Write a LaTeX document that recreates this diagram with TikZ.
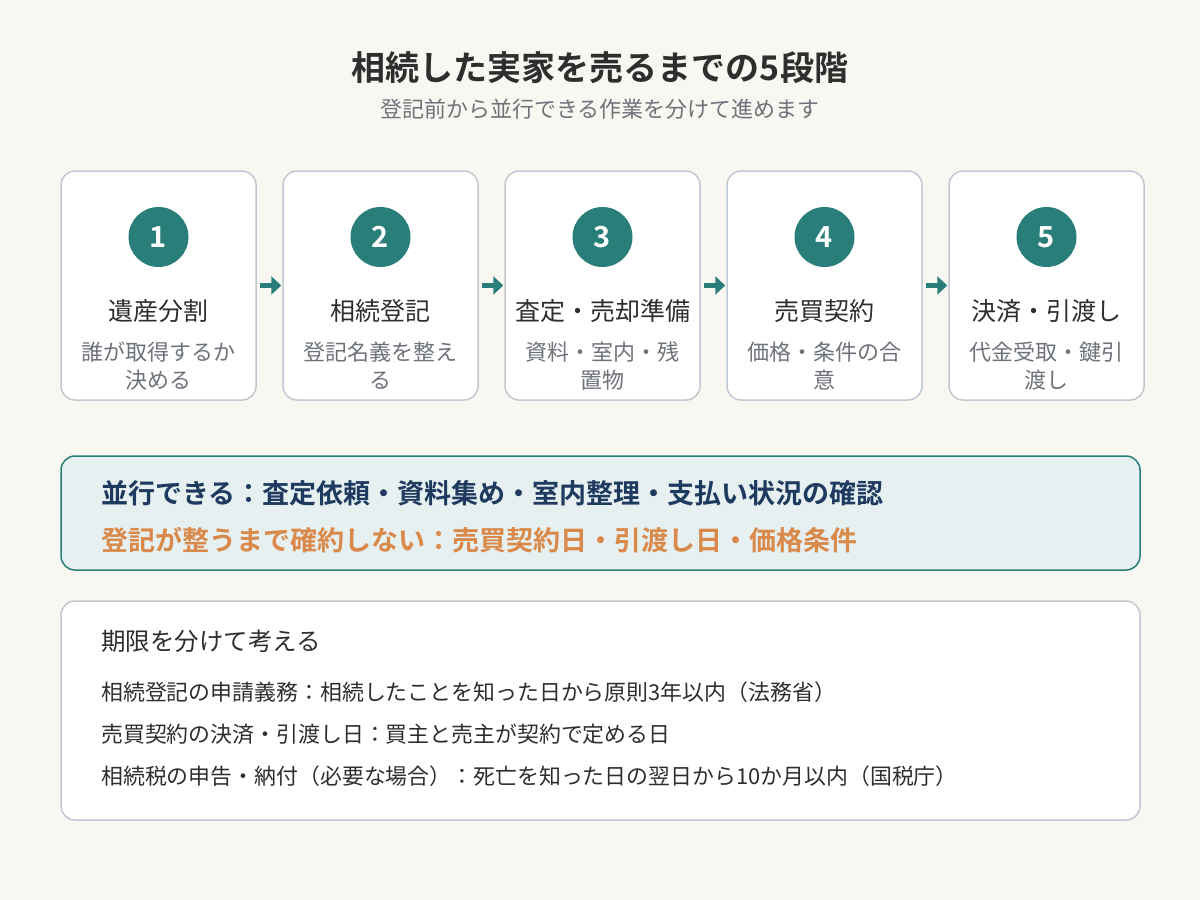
\documentclass[tikz,border=0pt]{standalone}
\usepackage{fontspec}
\setmainfont{Noto Sans CJK JP}[BoldFont={* Bold}]
\usetikzlibrary{arrows.meta}
\definecolor{bg}{HTML}{F9F7F1}
\definecolor{teal}{HTML}{2A7E7A}
\definecolor{cardline}{HTML}{C0C9D2}
\definecolor{navy}{HTML}{1F3A5F}
\definecolor{orng}{HTML}{D9894A}
\definecolor{darktext}{HTML}{2E2E2E}
\definecolor{graytext}{HTML}{6E737A}
\definecolor{panel}{HTML}{E6F0F1}
\begin{document}
\begin{tikzpicture}[x=1pt,y=-1pt,
  card/.style={draw=cardline,line width=1.5pt,fill=white,rounded corners=14pt,minimum width=195pt,minimum height=229pt,inner sep=0pt},
  numdot/.style={circle,fill=teal,minimum size=60pt,inner sep=0pt,text=white,font=\fontsize{29}{32}\selectfont\bfseries},
  ctitle/.style={text=darktext,font=\fontsize{25}{28}\selectfont,inner sep=0pt,anchor=center},
  csub/.style={text=graytext,font=\fontsize{22}{28}\selectfont,inner sep=0pt,align=center,anchor=center},
  flowarrow/.style={draw=teal,line width=5pt,-{Triangle[length=10pt,width=18pt]},shorten <=3pt,shorten >=1pt},
  panelbox/.style={rounded corners=14pt,line width=1.5pt,inner sep=0pt}
]
\useasboundingbox (0,0) rectangle (1200,900);
\fill[bg] (0,0) rectangle (1200,900);

\node[text=darktext,font=\fontsize{34}{40}\selectfont\bfseries,inner sep=0pt] (title) at (600,68) {相続した実家を売るまでの5段階};
\node[text=graytext,font=\fontsize{22}{26}\selectfont,inner sep=0pt] (subtitle) at (600,109) {登記前から並行できる作業を分けて進めます};

\foreach \i/\x/\t/\s in {
  1/158.5/遺産分割/{誰が取得するか\\決める},
  2/380.5/相続登記/{登記名義を整え\\る},
  3/602.5/査定・売却準備/{資料・室内・残\\置物},
  4/824.5/売買契約/{価格・条件の合\\意},
  5/1046.5/決済・引渡し/{代金受取・鍵引\\渡し}} {
  \node[card] (c\i) at (\x,285.5) {};
  \node[numdot] (n\i) at (\x,237) {\i};
  \node[ctitle] (t\i) at (\x,311) {\t};
  \node[csub] (s\i) at (\x,366) {\s};
}
\foreach \a/\b in {1/2,2/3,3/4,4/5}
  \draw[flowarrow] (c\a.east) -- (c\b.west);

\node[panelbox,draw=teal,fill=panel,minimum width=1079pt,minimum height=114pt] (par) at (600.5,513) {};
\node[anchor=west,inner sep=0pt,text=navy,font=\fontsize{27}{30}\selectfont\bfseries] (pl1) at (101,493) {並行できる：査定依頼・資料集め・室内整理・支払い状況の確認};
\node[anchor=west,inner sep=0pt,text=orng,font=\fontsize{27}{30}\selectfont\bfseries] (pl2) at (101,540) {登記が整うまで確約しない：売買契約日・引渡し日・価格条件};

\node[panelbox,draw=cardline,fill=white,minimum width=1079pt,minimum height=219pt] (dl) at (600.5,710.5) {};
\node[anchor=west,inner sep=0pt,text=darktext,font=\fontsize{24.5}{28}\selectfont] (dh) at (101,641) {期限を分けて考える};
\node[anchor=west,inner sep=0pt,text=darktext,font=\fontsize{21.9}{26}\selectfont] (d1) at (101,692) {相続登記の申請義務：相続したことを知った日から原則3年以内（法務省）};
\node[anchor=west,inner sep=0pt,text=darktext,font=\fontsize{21.9}{26}\selectfont] (d2) at (101,734) {売買契約の決済・引渡し日：買主と売主が契約で定める日};
\node[anchor=west,inner sep=0pt,text=darktext,font=\fontsize{21.9}{26}\selectfont] (d3) at (101,776) {相続税の申告・納付（必要な場合）：死亡を知った日の翌日から10か月以内（国税庁）};
\end{tikzpicture}
\end{document}
